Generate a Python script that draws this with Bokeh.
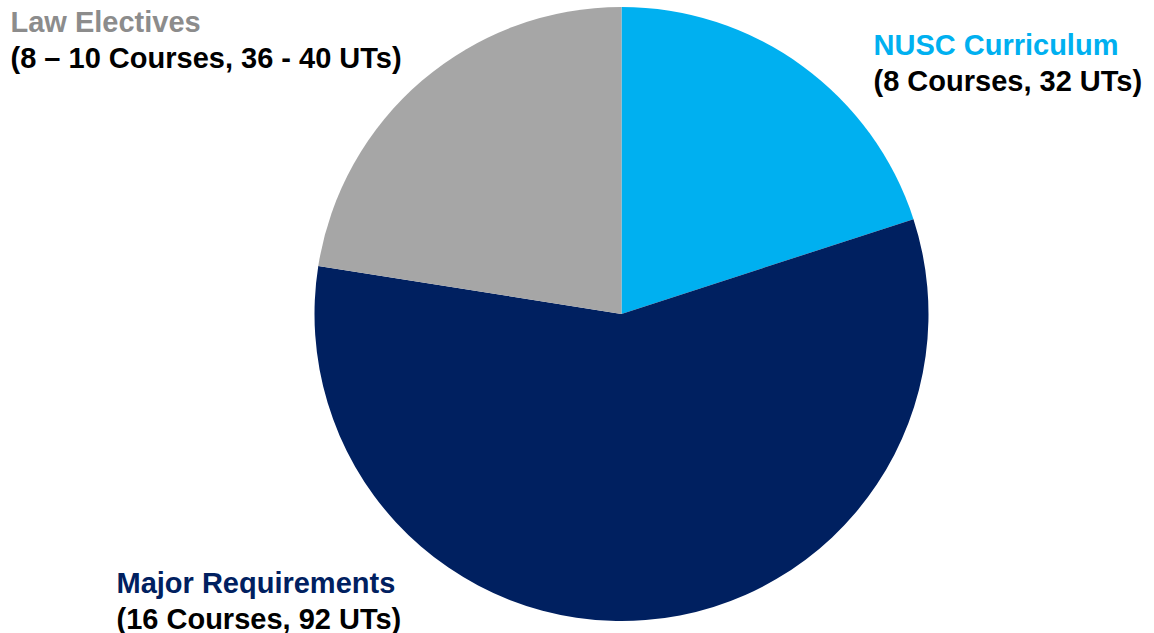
import math
from bokeh.plotting import figure
from bokeh.models import Range1d, ColumnDataSource
from bokeh.core.properties import value
from bokeh.embed import file_html
from bokeh.resources import INLINE

# ---- data ----
categories = ["NUSC Curriculum", "Major Requirements", "Law Electives"]
details = ["(8 Courses, 32 UTs)", "(16 Courses, 92 UTs)", "(8 \u2013 10 Courses, 36 - 40 UTs)"]
uts = [32, 92, 36]
slice_colors = ["#00B0F0", "#002060", "#A6A6A6"]
title_colors = ["#00B0F0", "#002060", "#8C8C8C"]

# ---- layout ----
W, H = 1154, 633
CX, CY, R = 621, 313.5, 307          # pie centre / radius in screen px (from top)
label_x = [873, 116, 10]              # left edge of each label block
label_y1 = [44, 582, 21]              # baseline of title line (screen px from top)
LINE = 36

p = figure(width=W, height=H, x_range=Range1d(0, W), y_range=Range1d(0, H),
           output_backend="svg", toolbar_location=None, min_border=0,
           x_axis_type=None, y_axis_type=None)
p.grid.visible = False
p.outline_line_color = None
p.background_fill_color = "white"
p.border_fill_color = "white"

total = sum(uts)
starts, ends = [], []
cum = 0
for v in uts:
    end = math.pi / 2 - cum / total * 2 * math.pi
    cum += v
    start = math.pi / 2 - cum / total * 2 * math.pi
    starts.append(start)
    ends.append(end)

src = ColumnDataSource(dict(x=[CX] * len(uts), y=[H - CY] * len(uts),
                            start=starts, end=ends, color=slice_colors))
p.wedge(x="x", y="y", radius=R, radius_units="screen", start_angle="start",
        end_angle="end", fill_color="color", line_color=None, source=src)

tsrc = ColumnDataSource(dict(x=label_x, y=[H - y for y in label_y1],
                             t=categories, c=title_colors))
p.text(x="x", y="y", text="t", text_color="c", source=tsrc,
       text_font=value("Liberation Sans"), text_font_style="bold",
       text_font_size="29px", text_align="left", text_baseline="alphabetic")

dsrc = ColumnDataSource(dict(x=label_x, y=[H - y - LINE for y in label_y1], t=details))
p.text(x="x", y="y", text="t", text_color="#000000", source=dsrc,
       text_font=value("Liberation Sans"), text_font_style="bold",
       text_font_size="29px", text_align="left", text_baseline="alphabetic")

open("out.html", "w").write(file_html(p, INLINE))
